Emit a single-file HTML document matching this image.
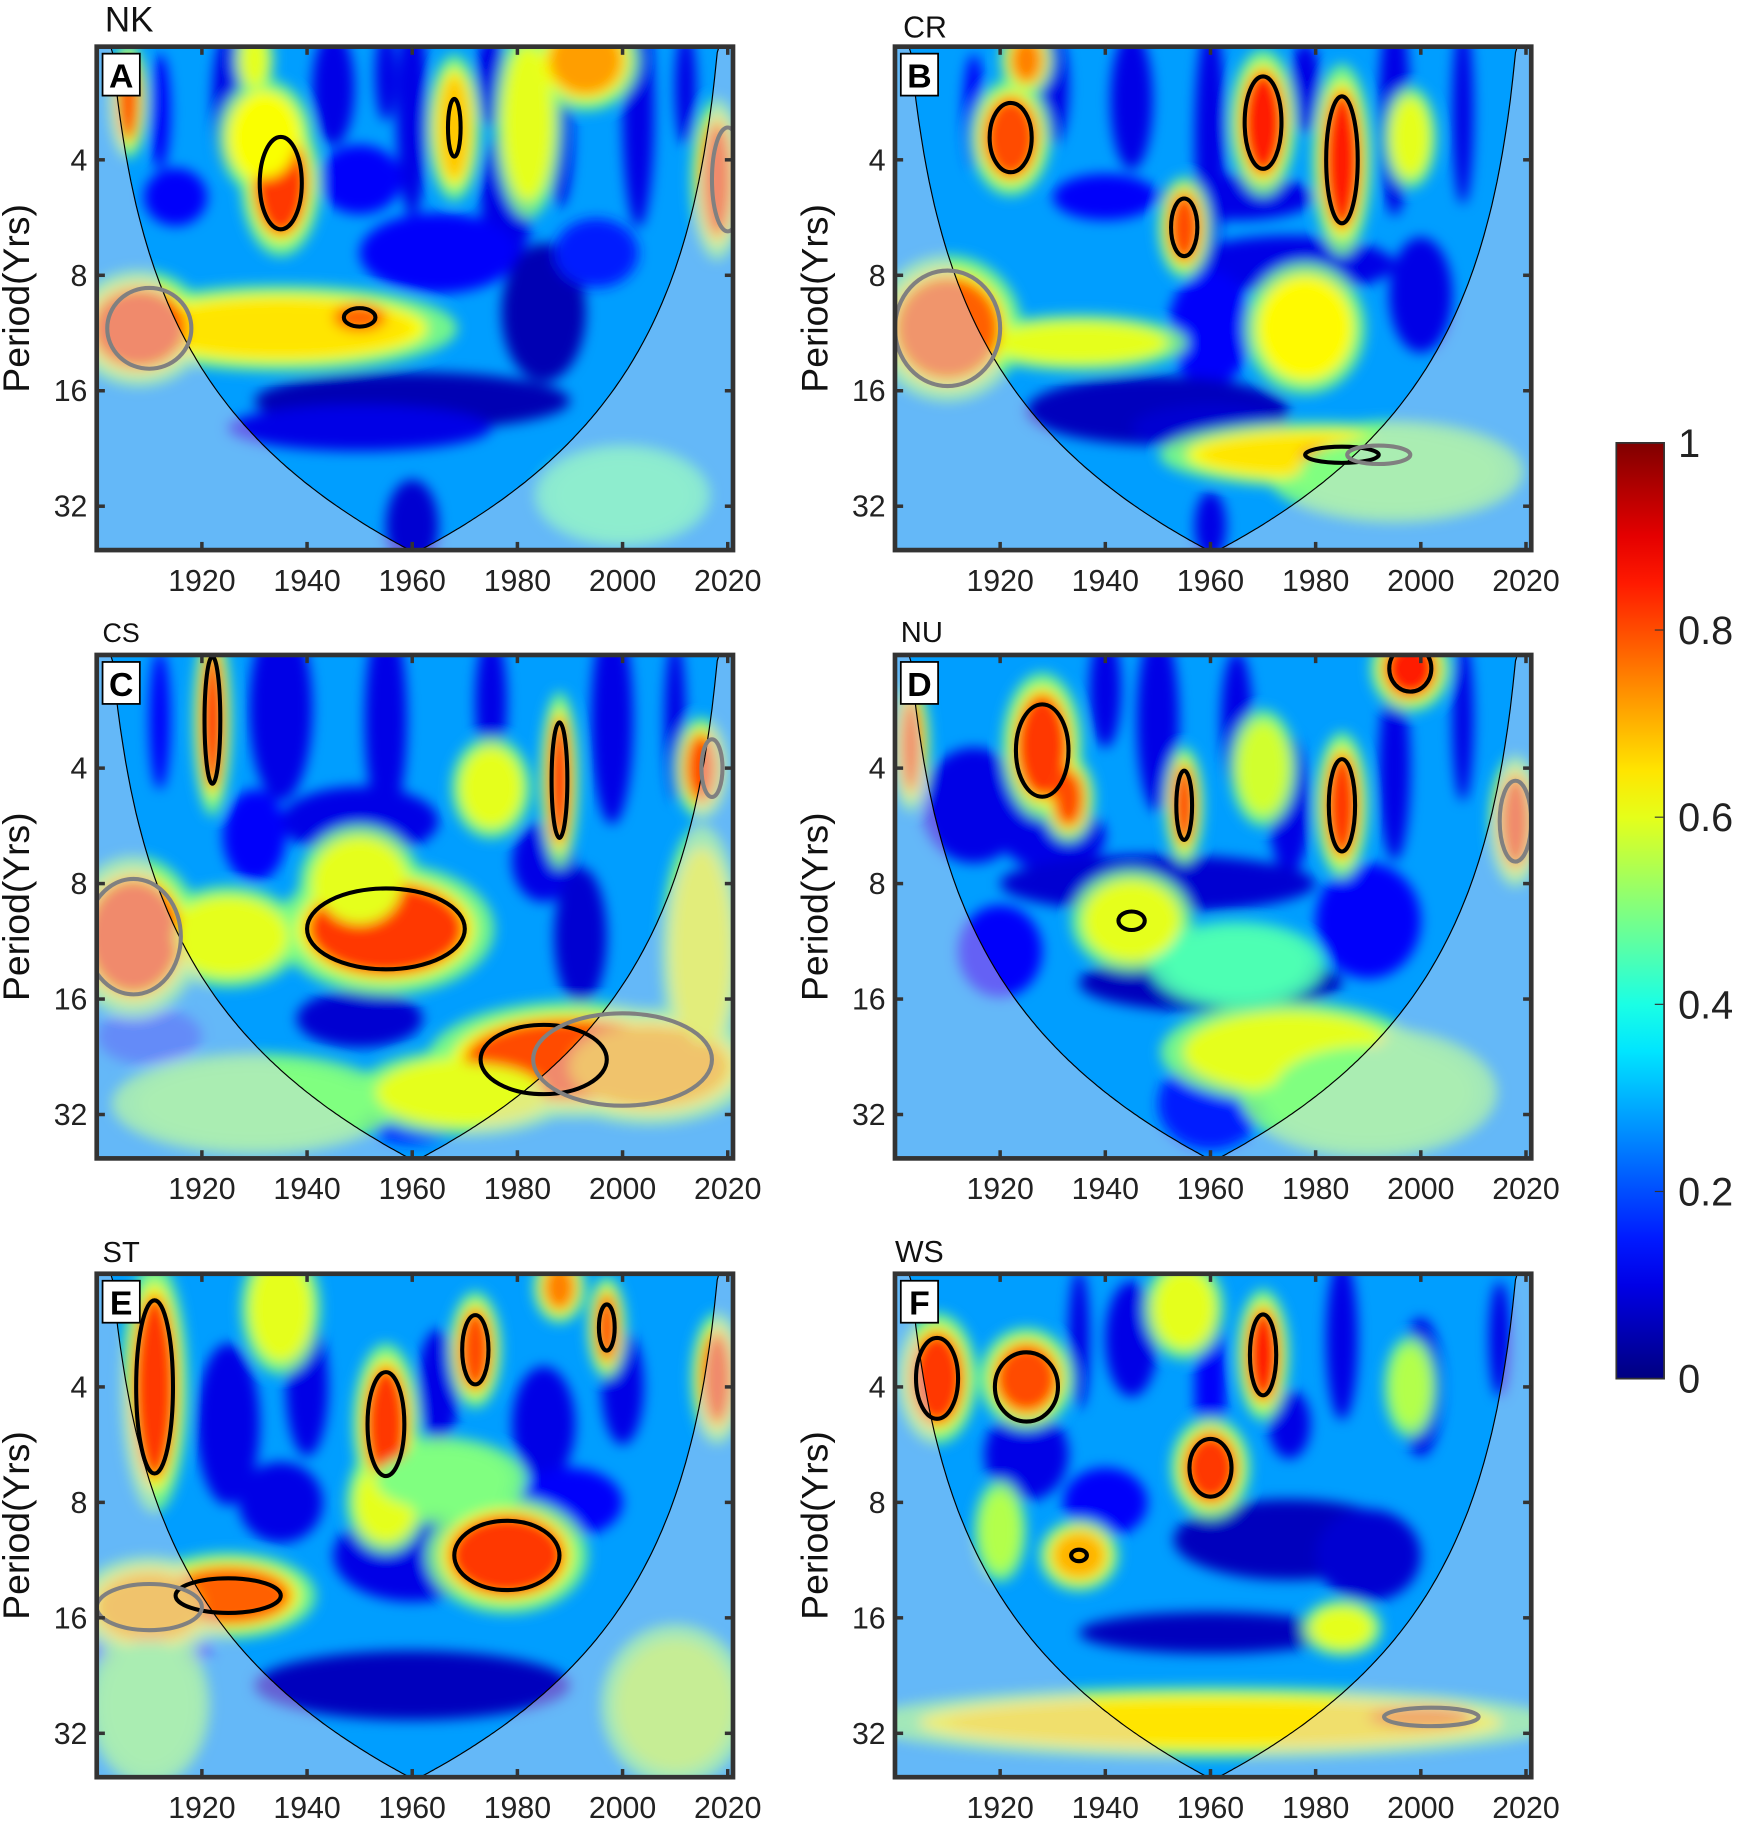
<!DOCTYPE html>
<html><head><meta charset="utf-8"><style>
html,body{margin:0;padding:0;background:#fff;}
svg{display:block;font-family:"Liberation Sans",Arial,sans-serif;}
</style></head><body>
<svg id="fig" width="1748" height="1832" viewBox="0 0 1500 1572" xmlns="http://www.w3.org/2000/svg">
<defs>
<filter id="blur" x="-20%" y="-20%" width="140%" height="140%"><feGaussianBlur stdDeviation="5.5"/></filter>
<linearGradient id="cbgrad" x1="0" y1="1" x2="0" y2="0"></linearGradient>
</defs>
</svg>
<script>
// ---- data: [year, period, rxYears, ryOctaves, coherence]
const darkA=[[1925,2.8,3,0.6,0.1],[1945,2.6,4,0.5,0.1],[1960,3,3,0.9,0.1],[1975,2.5,3,0.4,0.1],[2003,3,3,1,0.1],[1950,4.5,8,0.3,0.12],[1915,5,6,0.25,0.12],[1978,5,5,0.6,0.1],[1965,7,15,0.35,0.12],[1985,10,8,0.6,0.05],[1960,17,30,0.25,0.05],[1950,20,25,0.2,0.1],[1960,36,5,0.4,0.08],[1995,7,8,0.3,0.15],[1912,3,2,0.5,0.12],[1955,2.4,2,0.4,0.1],[1988,3.5,2.5,0.6,0.1],[2012,2.6,2,0.5,0.1]];
const warmA=[[1935,4.6,5,0.45,0.82],[1932,3.5,6,0.35,0.62],[1935,11,25,0.25,0.65],[1950,10.3,5,0.12,0.78],[1908,11,9,0.35,0.8],[1968,3.3,3,0.45,0.68],[1982,3.2,4,0.6,0.6],[1993,2.2,7,0.3,0.72],[2018,4.5,3,0.5,0.8],[1906,2.8,2,0.35,0.8],[1930,2.2,2,0.2,0.6],[2000,30,12,0.3,0.45]];
const contA=[[1935,4.6,4,0.4,0],[1950,10.3,3,0.08,0],[1968,3.3,1.2,0.25,0],[1910,11,8,0.35,1],[2020,4.5,3,0.45,1]];

const darkB=[[1930,2.6,3,0.5,0.1],[1945,2.8,4,0.6,0.1],[1960,3.5,3,1,0.1],[1978,2.6,3,0.4,0.1],[1995,3,3,0.9,0.1],[2008,3,2,0.8,0.1],[1965,5,15,0.2,0.1],[1940,5,10,0.2,0.12],[1975,7.5,20,0.25,0.1],[1960,11,8,0.5,0.12],[1950,18,25,0.3,0.06],[1960,20,15,0.2,0.08],[2000,9,6,0.5,0.1],[1960,36,3,0.3,0.1],[1915,3,2,0.5,0.12]];
const warmB=[[1922,3.5,5,0.35,0.8],[1970,3.2,4,0.45,0.85],[1985,4,3.5,0.6,0.85],[1955,6,3,0.3,0.8],[1978,11,8,0.4,0.63],[1980,23.5,22,0.18,0.65],[1985,23.5,8,0.08,0.8],[1910,11,10,0.45,0.78],[1935,12,15,0.15,0.6],[1925,2.2,3,0.2,0.75],[1998,3.5,3,0.3,0.6],[1995,26,18,0.3,0.5]];
const contB=[[1922,3.5,4,0.3,0],[1970,3.2,3.5,0.4,0],[1985,4,3,0.55,0],[1955,6,2.5,0.25,0],[1985,23.5,7,0.07,0],[1910,11,10,0.5,1],[1992,23.5,6,0.08,1]];

const darkC=[[1935,2.8,6,0.8,0.1],[1955,3,4,0.9,0.1],[1975,2.7,3,0.6,0.1],[1998,3,4,0.9,0.1],[2010,3,2,0.7,0.1],[1950,5.5,15,0.3,0.1],[1930,6,6,0.4,0.12],[1985,7,6,0.35,0.1],[1992,11,5,0.6,0.08],[1950,18,12,0.25,0.08],[1960,32,10,0.25,0.15],[1910,20,10,0.25,0.2],[1912,3,2,0.6,0.12]];
const warmC=[[1922,3,2,0.6,0.85],[1988,4.3,2,0.55,0.85],[1955,10.5,15,0.4,0.82],[1950,8,8,0.35,0.6],[1990,23,20,0.35,0.8],[2005,24,15,0.35,0.7],[1907,11,9,0.5,0.8],[1925,11,10,0.3,0.6],[1970,28,15,0.25,0.6],[1930,30,20,0.3,0.5],[2015,4,3,0.3,0.8],[1975,4.5,5,0.3,0.6],[2015,12,5,0.8,0.6]];
const contC=[[1922,3,1.5,0.55,0],[1988,4.3,1.5,0.5,0],[1955,10.5,15,0.35,0],[1985,23,12,0.3,0],[2000,23,17,0.4,1],[1907,11,9,0.5,1],[2017,4,2,0.25,1]];

const darkD=[[1915,5,10,0.5,0.1],[1930,6,10,0.3,0.1],[1950,3,4,0.8,0.1],[1965,3,3,0.6,0.1],[1975,5,4,0.6,0.1],[1995,4,3,0.8,0.1],[2008,3,2,0.7,0.1],[1950,8,30,0.25,0.08],[1960,14.5,25,0.25,0.06],[1990,10,10,0.5,0.12],[1920,12,8,0.4,0.12],[1960,30,10,0.4,0.15],[1940,2.5,3,0.5,0.1]];
const warmD=[[1928,3.5,5,0.45,0.82],[1933,4.8,3,0.25,0.8],[1955,5,2,0.35,0.82],[1985,5,3,0.45,0.82],[1998,2.2,5,0.25,0.85],[1945,10,5,0.15,0.75],[1945,10,8,0.3,0.6],[1975,22,18,0.3,0.6],[1990,28,18,0.4,0.5],[2018,5.5,3,0.4,0.8],[1903,3.5,2,0.4,0.8],[1970,4,4,0.35,0.58],[1965,13,12,0.25,0.45]];
const contD=[[1928,3.6,5,0.4,0],[1955,5,1.5,0.3,0],[1985,5,2.5,0.4,0],[1998,2.2,4,0.2,0],[1945,10,2.5,0.08,0],[2018,5.5,3,0.35,1]];

const darkE=[[1925,5,6,0.7,0.1],[1940,4,4,0.6,0.1],[1965,4,4,0.5,0.1],[1985,5,6,0.5,0.1],[2000,4,4,0.5,0.1],[1935,8,8,0.35,0.1],[1960,11,15,0.4,0.1],[1910,19,12,0.25,0.15],[1960,24,30,0.3,0.06],[1990,8,10,0.3,0.12]];
const warmE=[[1911,4,4,0.8,0.82],[1955,5,4,0.5,0.82],[1972,3.2,3,0.35,0.8],[1978,11,11,0.35,0.82],[1925,14,12,0.25,0.78],[1910,15,10,0.3,0.7],[1955,8,5,0.3,0.6],[1965,7,12,0.25,0.5],[1997,2.8,2,0.3,0.8],[1988,2.2,3,0.2,0.75],[2018,3.8,3,0.4,0.8],[1935,2.5,5,0.4,0.6],[2010,27,10,0.5,0.55],[1910,27,8,0.5,0.5]];
const contE=[[1911,4,3.5,0.75,0],[1955,5,3.5,0.45,0],[1972,3.2,2.5,0.3,0],[1978,11,10,0.3,0],[1925,14,10,0.15,0],[1997,2.8,1.5,0.2,0],[1910,15,10,0.2,1]];

const darkF=[[1925,6,8,0.4,0.1],[1945,3,5,0.5,0.1],[1975,5,4,0.3,0.1],[1985,3,3,0.7,0.1],[2000,4,4,0.6,0.1],[1975,10,22,0.35,0.06],[1990,11,10,0.4,0.08],[1960,17.5,25,0.18,0.06],[1940,8,8,0.3,0.12],[2015,3,2,0.5,0.1],[1935,3,2,0.6,0.1],[1960,4,3,0.8,0.12]];
const warmF=[[1908,3.8,5,0.4,0.82],[1925,3.8,6,0.3,0.8],[1970,3.3,3,0.4,0.85],[1960,6.5,5,0.3,0.82],[1935,11,5,0.2,0.7],[1960,30,50,0.2,0.65],[2000,29,10,0.1,0.75],[1920,9.5,3,0.3,0.55],[1985,17,5,0.15,0.6],[1955,2.5,5,0.3,0.6],[1998,4,3,0.3,0.55]];
const contF=[[1908,3.8,4,0.35,0],[1925,4,6,0.3,0],[1970,3.3,2.5,0.35,0],[1960,6.5,4,0.25,0],[1935,11,1.5,0.05,0],[2002,29,9,0.08,1]];

const xTicks=[1920,1940,1960,1980,2000,2020];
const yTicks=[4,8,16,32];
const cbTicks=[0,0.2,0.4,0.6,0.8,1];
const cbLabels=["0","0.2","0.4","0.6","0.8","1"];

const NS="http://www.w3.org/2000/svg";
const svg=document.getElementById('fig');
function el(tag,attrs,parent){const e=document.createElementNS(NS,tag);for(const k in attrs)e.setAttribute(k,attrs[k]);(parent||svg).appendChild(e);return e;}
function jet(v){const c=x=>Math.round(255*Math.max(0,Math.min(1,x)));return `rgb(${c(1.5-Math.abs(4*v-3))},${c(1.5-Math.abs(4*v-2))},${c(1.5-Math.abs(4*v-1))})`;}

const panels=[
 {x0:83,y0:40,title:"NK",tx:90,ty:27,ts:30,lab:"A",dark:darkA,warm:warmA,cont:contA,name:"panel-nk"},
 {x0:768,y0:40,title:"CR",tx:775,ty:32,ts:26,lab:"B",dark:darkB,warm:warmB,cont:contB,name:"panel-cr"},
 {x0:83,y0:562,title:"CS",tx:88,ty:551,ts:23,lab:"C",dark:darkC,warm:warmC,cont:contC,name:"panel-cs"},
 {x0:768,y0:562,title:"NU",tx:773,ty:551,ts:25,lab:"D",dark:darkD,warm:warmD,cont:contD,name:"panel-nu"},
 {x0:83,y0:1093,title:"ST",tx:88,ty:1083,ts:25,lab:"E",dark:darkE,warm:warmE,cont:contE,name:"panel-st"},
 {x0:768,y0:1093,title:"WS",tx:768,ty:1083,ts:26,lab:"F",dark:darkF,warm:warmF,cont:contF,name:"panel-ws"}
];
const W=546,H=432,T0=1900,T1=2021,L0=1.02,L1=5.38;

panels.forEach((p,i)=>{
  const xs=t=>p.x0+(t-T0)/(T1-T0)*W;
  const ys=per=>p.y0+(Math.log2(per)-L0)/(L1-L0)*H;
  const pxY=oct=>oct/(L1-L0)*H;
  const pxX=yr=>yr/(T1-T0)*W;
  const g=el('g',{});
  
  
  const cp=el('clipPath',{id:'clip'+i},g);
  el('rect',{x:p.x0,y:p.y0,width:W,height:H},cp);
  const body=el('g',{'clip-path':`url(#clip${i})`},g);
  
  
  el('rect',{x:p.x0,y:p.y0,width:W,height:H,fill:jet(0.28)},body);
  const bl=el('g',{filter:'url(#blur)'},body);
  p.dark.forEach(b=>{const e=el('ellipse',{cx:xs(b[0]),cy:ys(b[1]),rx:pxX(b[2]),ry:pxY(b[3]),fill:jet(b[4])},bl);});
  p.warm.forEach(b=>{el('ellipse',{cx:xs(b[0]),cy:ys(b[1]),rx:pxX(b[2])*1.3+5,ry:pxY(b[3])*1.3+5,fill:jet(Math.min(b[4],0.5)),opacity:0.9},bl);});
  p.warm.forEach(b=>{el('ellipse',{cx:xs(b[0]),cy:ys(b[1]),rx:pxX(b[2])*1.1+2,ry:pxY(b[3])*1.1+2,fill:jet(Math.min(b[4],0.62))},bl);});
  p.warm.forEach(b=>{const e=el('ellipse',{cx:xs(b[0]),cy:ys(b[1]),rx:pxX(b[2]),ry:pxY(b[3]),fill:jet(b[4])},bl);});
  const coi=t=>0.7*Math.min(t-1900,2021-t);
  let pts=[];
  for(let t=1900;t<=2021;t+=0.5){let per=Math.max(2.0,coi(t));per=Math.min(per,45);pts.push([xs(t),ys(per)]);}
  const cone="M"+pts.map(q=>q[0].toFixed(1)+","+q[1].toFixed(1)).join("L");
  const outer=`M${p.x0},${p.y0}H${p.x0+W}V${p.y0+H}H${p.x0}Z`;
  const ov=el('path',{d:outer+" "+cone+"Z",fill:'#ddd8f0',opacity:0.45,'fill-rule':'evenodd'},body);
  
  
  const cl=el('path',{d:cone,fill:'none',stroke:'#000','stroke-width':1},body);
  
  
  p.cont.forEach(c=>{const e=el('ellipse',{cx:xs(c[0]),cy:ys(c[1]),rx:pxX(c[2]),ry:pxY(c[3]),fill:'none',stroke:c[4]?'#808080':'#000','stroke-width':3.5},body);});
  const fr=el('rect',{x:p.x0,y:p.y0,width:W,height:H,fill:'none',stroke:'#333','stroke-width':4},g);
  
  xTicks.forEach(t=>{
    el('line',{x1:xs(t),x2:xs(t),y1:p.y0+H,y2:p.y0+H-7,stroke:'#333','stroke-width':3},g);
    el('line',{x1:xs(t),x2:xs(t),y1:p.y0,y2:p.y0+7,stroke:'#333','stroke-width':3},g);
    const tx=el('text',{x:xs(t),y:p.y0+H+35,'font-size':26,'text-anchor':'middle',fill:'#222'},g);tx.textContent=t;
    
  });
  yTicks.forEach(v=>{
    el('line',{x1:p.x0,x2:p.x0+7,y1:ys(v),y2:ys(v),stroke:'#333','stroke-width':3},g);
    el('line',{x1:p.x0+W,x2:p.x0+W-7,y1:ys(v),y2:ys(v),stroke:'#333','stroke-width':3},g);
    const tx=el('text',{x:p.x0-8,y:ys(v)+9,'font-size':26,'text-anchor':'end',fill:'#222'},g);tx.textContent=v;
    
  });
  const yl=el('text',{x:0,y:0,'font-size':32,'text-anchor':'middle',fill:'#111',transform:`translate(${p.x0-58},${p.y0+H/2}) rotate(-90)`},g);
  yl.textContent="Period(Yrs)";
  
  const tt=el('text',{x:p.tx,y:p.ty,'font-size':p.ts,fill:'#111'},g);tt.textContent=p.title;
  
  const lb=el('rect',{x:p.x0+5,y:p.y0+6,width:32,height:36,fill:'#fff',stroke:'#000','stroke-width':1.5},g);
  
  const lt=el('text',{x:p.x0+21,y:p.y0+35,'font-size':29,'font-weight':'bold','text-anchor':'middle',fill:'#000'},g);lt.textContent=p.lab;
  
});

const grad=document.getElementById('cbgrad');
for(let k=0;k<=20;k++){el('stop',{offset:(k/20),'stop-color':jet(k/20)},grad);}
const cbx=1387,cbw=41,cbTop=380,cbBot=1183;
const cb=el('rect',{x:cbx,y:cbTop,width:cbw,height:cbBot-cbTop,fill:'url(#cbgrad)',stroke:'#333','stroke-width':1.5});

cbTicks.forEach((v,k)=>{
  const y=cbBot-v*(cbBot-cbTop);
  el('line',{x1:cbx+cbw-8,x2:cbx+cbw,y1:y,y2:y,stroke:'#333','stroke-width':1});
  const t=el('text',{x:cbx+cbw+12,y:y+12,'font-size':34,fill:'#222'});t.textContent=cbLabels[k];
  
});
</script>
</body></html>
